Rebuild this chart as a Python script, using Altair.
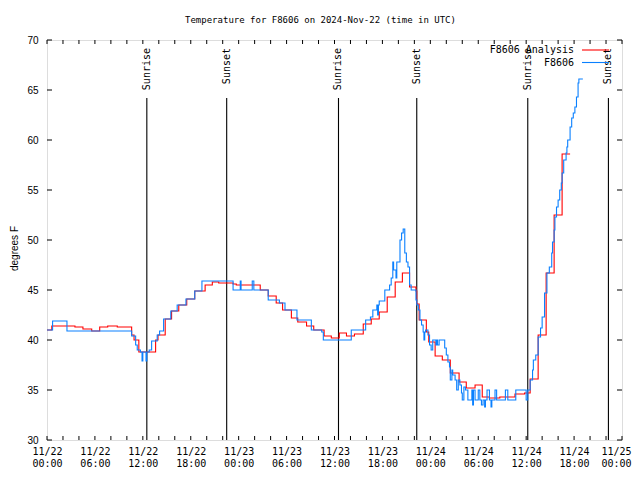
import json
import altair as alt
import pandas as pd

# ---------------- data (hours after 2024-11-22 00:00 UTC, degrees F) ----------------
analysis_hours = [0.0, 0.6, 3.5, 4.5, 5.6, 6.6, 7.6, 8.8, 10.6, 10.9, 11.5, 13.6, 13.9, 14.8,
                  15.6, 16.5, 17.5, 18.5, 19.8, 20.7, 21.5, 23.3, 23.7, 26.7, 27.7, 28.7, 29.5,
                  30.6, 31.4, 32.5, 33.4, 34.7, 35.6, 36.6, 37.5, 38.5, 39.6, 40.6, 41.6, 42.6,
                  43.6, 44.5, 45.4, 46.2, 46.3, 46.6, 47.5, 47.8, 48.6, 49.5, 50.5, 51.6, 52.5,
                  53.6, 54.5, 55.4, 56.7, 58.6, 59.8, 60.5, 61.5, 62.5, 63.5, 64.5, 65.5]
analysis_temps = [41.0, 41.4, 41.3, 41.1, 40.9, 41.3, 41.4, 41.3, 40.5, 40.0, 38.8, 40.0, 40.5, 42.1,
                  42.9, 43.5, 44.1, 44.9, 45.5, 45.8, 45.7, 45.6, 45.5, 45.0, 44.4, 43.7, 43.0,
                  42.2, 41.8, 41.4, 41.0, 40.4, 40.2, 40.7, 40.4, 40.6, 41.6, 42.1, 42.8, 44.3,
                  45.8, 46.7, 45.3, 44.9, 43.6, 42.0, 40.8, 39.8, 38.4, 38.0, 36.7, 35.8, 35.2,
                  35.5, 34.3, 34.2, 34.3, 34.6, 34.7, 36.1, 40.5, 46.7, 52.5, 58.6, 58.6]

obs_hours = [0.0, 0.7, 2.5, 10.6, 11.1, 11.3, 11.7, 11.9, 12.0, 12.4, 12.5, 12.8, 13.1, 13.8,
             14.1, 14.6, 15.5, 16.3, 17.4, 18.5, 19.4, 23.3, 24.2, 24.3, 25.7, 25.9, 27.7,
             29.1, 29.8, 31.3, 33.1, 34.4, 34.6, 38.1, 39.9, 40.5, 40.8, 41.3, 41.4, 41.5,
             41.6, 42.3, 42.9, 43.1, 43.3, 43.4, 43.7, 43.8, 44.2, 44.4, 44.6, 44.8, 45.0,
             45.2, 45.4, 45.6, 46.2, 46.3, 46.5, 46.7, 46.9, 47.1, 47.2, 47.3, 47.4, 47.7,
             47.9, 48.1, 48.3, 48.7, 48.8, 48.9, 49.1, 49.8, 50.0, 50.2, 50.4, 50.5, 50.7,
             50.8, 51.1, 51.3, 51.5, 51.7, 51.9, 52.0, 52.2, 52.4, 52.7, 53.2, 53.3, 53.4,
             53.6, 54.0, 54.2, 54.4, 54.6, 54.8, 54.9, 55.1, 55.4, 55.6, 55.7, 56.1, 56.3,
             57.4, 57.7, 58.7, 60.0, 60.2, 60.5, 60.8, 60.9, 61.2, 61.5, 61.8, 62.0, 62.3,
             62.6, 62.9, 63.2, 63.3, 63.5, 63.6, 63.8, 64.0, 64.2, 64.4, 64.5, 64.7, 65.0,
             65.1, 65.2, 65.5, 65.7, 65.9, 66.1, 66.3, 66.5, 66.6, 67.1]
obs_temps = [41.0, 41.9, 40.9, 40.4, 39.5, 39.0, 38.8, 37.9, 38.8, 37.9, 38.8, 39.0, 39.9, 40.5,
             40.9, 42.1, 42.9, 43.5, 44.1, 44.9, 45.9, 45.0, 45.9, 45.0, 45.9, 45.0, 44.0,
             43.7, 43.0, 42.0, 41.0, 40.8, 40.0, 41.0, 42.0, 42.3, 43.0, 43.5, 42.5, 43.5,
             43.9, 45.0, 45.5, 46.2, 47.8, 47.0, 46.2, 47.8, 50.0, 50.7, 51.1, 48.7, 47.8,
             47.3, 45.5, 45.0, 44.0, 43.5, 43.0, 42.0, 41.5, 40.8, 40.0, 40.8, 41.0, 40.5,
             39.5, 39.0, 40.0, 39.5, 40.0, 39.5, 40.0, 39.2, 38.5, 37.8, 37.3, 36.0, 37.0,
             36.5, 36.0, 35.0, 36.0, 35.5, 34.7, 34.0, 35.3, 35.0, 34.0, 35.0, 33.5, 35.0,
             34.0, 35.0, 34.0, 33.5, 34.0, 33.3, 34.0, 35.0, 34.0, 33.3, 34.0, 35.0, 34.0,
             35.0, 34.0, 35.0, 34.0, 35.0, 36.0, 37.0, 38.0, 38.5, 40.3, 41.2, 42.3, 44.7,
             46.7, 47.3, 48.7, 49.8, 51.0, 52.3, 53.3, 54.0, 55.0, 55.7, 56.7, 58.0, 58.7,
             59.3, 60.0, 61.3, 62.2, 62.7, 63.3, 64.3, 65.7, 66.1, 66.1]

sun_hours = [12.5, 22.5, 36.5, 46.3, 60.2, 70.3]
sun_labels = ["Sunrise", "Sunset", "Sunrise", "Sunset", "Sunrise", "Sunset"]

series_names = ["F8606 Analysis", "F8606"]
series_colors = ["#ff0000", "#0a80ff"]

x_label_hours = [0, 6, 12, 18, 24, 30, 36, 42, 48, 54, 60, 66, 72]
x_tick_labels = [["11/22", "00:00"], ["11/22", "06:00"], ["11/22", "12:00"], ["11/22", "18:00"],
                 ["11/23", "00:00"], ["11/23", "06:00"], ["11/23", "12:00"], ["11/23", "18:00"],
                 ["11/24", "00:00"], ["11/24", "06:00"], ["11/24", "12:00"], ["11/24", "18:00"],
                 ["11/25", "00:00"]]
x_minor_hours = [0, 2, 4, 6, 8, 10, 12, 14, 16, 18, 20, 22, 24, 26, 28, 30, 32, 34, 36, 38, 40,
                 42, 44, 46, 48, 50, 52, 54, 56, 58, 60, 62, 64, 66, 68, 70, 72]
y_ticks = [30, 35, 40, 45, 50, 55, 60, 65, 70]

title_text = "Temperature for F8606 on 2024-Nov-22 (time in UTC)"

# ---------------- layout ----------------
W, H = 575, 400
MONO = "DejaVu Sans Mono"
SANS = "Liberation Sans"
LW = 1.1

xs = alt.Scale(domain=[0, 72], nice=False, zero=False)
ys = alt.Scale(domain=[30, 70], nice=False, zero=False)

x_axis = alt.Axis(values=x_label_hours,
                  labelExpr=json.dumps(x_tick_labels) + "[round(datum.value/6)]",
                  tickSize=0, domain=False, grid=False, title=None,
                  labelFont=MONO, labelFontSize=10, labelColor="black",
                  labelPadding=6, labelLineHeight=12, labelBaseline="top",
                  labelOffset={"condition": {"test": "datum.value >= 72", "value": -6},
                               "value": 0},
                  labelFlush=False, labelOverlap=False)
y_axis = alt.Axis(values=y_ticks, tickSize=0, domain=False, grid=False,
                  title="degrees F", titleFont=SANS, titleFontSize=10, titleFontWeight="normal",
                  titleColor="black", titleAngle=270, titleX=-33, titleY=208,
                  titleAlign="center", titleBaseline="middle",
                  labelFont=SANS, labelFontSize=10, labelColor="black", labelPadding=9)


def X(field):
    return alt.X(field, type="quantitative", scale=xs, axis=x_axis)


def Y(field):
    return alt.Y(field, type="quantitative", scale=ys, axis=y_axis)


df_a = pd.DataFrame({"h": analysis_hours, "t": analysis_temps})
df_o = pd.DataFrame({"h": obs_hours, "t": obs_temps})
df_sun = pd.DataFrame({"h": sun_hours, "label": sun_labels})
df_xt = pd.DataFrame({"h": x_minor_hours})
df_yt = pd.DataFrame({"t": y_ticks})
one = pd.DataFrame({"a": [0]})

line_a = alt.Chart(df_a).mark_line(interpolate="step-after", color=series_colors[0],
                                   strokeWidth=LW).encode(x=X("h"), y=Y("t"))
line_o = alt.Chart(df_o).mark_line(interpolate="step-after", color=series_colors[1],
                                   strokeWidth=LW).encode(x=X("h"), y=Y("t"))

sun_rules = alt.Chart(df_sun).mark_rule(color="black", strokeWidth=1.1).encode(
    x=X("h"), y=alt.value(58), y2=alt.value(H))
sun_text = alt.Chart(df_sun).mark_text(angle=270, align="right", baseline="middle",
                                       font=MONO, fontSize=10, color="black").encode(
    x=X("h"), y=alt.value(8), text="label:N")

xt_bottom = alt.Chart(df_xt).mark_rule(color="black", strokeWidth=1).encode(
    x=X("h"), y=alt.value(H), y2=alt.value(H - 4))
xt_top = alt.Chart(df_xt).mark_rule(color="black", strokeWidth=1).encode(
    x=X("h"), y=alt.value(0), y2=alt.value(4))
yt_left = alt.Chart(df_yt).mark_rule(color="black", strokeWidth=1).encode(
    y=Y("t"), x=alt.value(0), x2=alt.value(5))
yt_right = alt.Chart(df_yt).mark_rule(color="black", strokeWidth=1).encode(
    y=Y("t"), x=alt.value(W - 5), x2=alt.value(W))

leg = []
for i, (name, col) in enumerate(zip(series_names, series_colors)):
    yy = 10 + 12.5 * i
    leg.append(alt.Chart(one).mark_text(align="right", baseline="middle", font=MONO,
                                        fontSize=10, color="black").encode(
        x=alt.value(527), y=alt.value(yy), text=alt.value(name)))
    leg.append(alt.Chart(one).mark_rule(color=col, strokeWidth=LW).encode(
        x=alt.value(535), x2=alt.value(562), y=alt.value(yy)))

chart = alt.layer(xt_bottom, xt_top, yt_left, yt_right, sun_rules, sun_text,
                  line_a, line_o, *leg).properties(
    width=W, height=H,
    title=alt.TitleParams(title_text, font=MONO, fontSize=9, fontWeight="normal",
                          color="black", anchor="middle", dx=-14, offset=10),
    autosize=alt.AutoSizeParams(type="none"),
    padding={"left": 39, "top": 32, "right": 10, "bottom": 34},
).configure_view(stroke="black", strokeWidth=1).configure(background="white")

chart.save("out.html", embed_options={"renderer": "svg", "actions": False})
